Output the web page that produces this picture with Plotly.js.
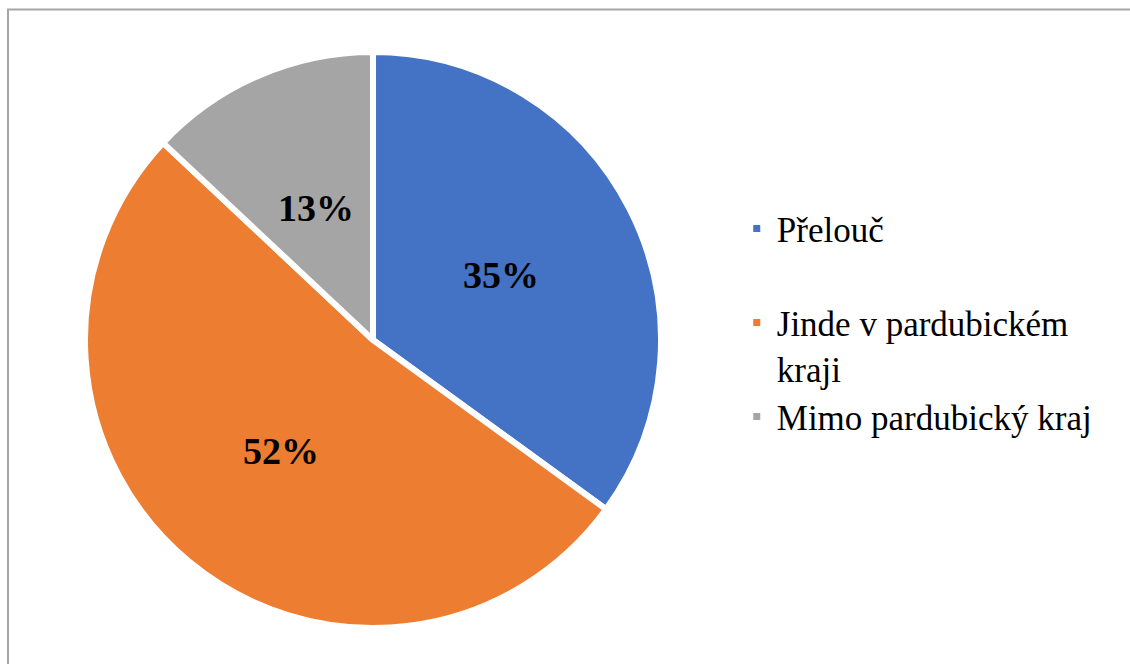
<!DOCTYPE html>
<html><head><meta charset="utf-8">
<script src="https://cdn.plot.ly/plotly-3.0.1.min.js"></script>
<style>html,body{margin:0;padding:0;background:#fff}#chart{width:1130px;height:664px}</style>
</head><body><div id="chart"></div>
<script>
const categories = ["Přelouč", "<br>Jinde v pardubickém<br>kraji", "Mimo pardubický kraj"];
const values = [35, 52, 13];
const colors = ["#4472C4", "#ED7D31", "#A5A5A5"];

const W = 1130, H = 664;
const domX = [0.0752, 0.585], domY = [0.0542, 0.9217];

// percentage labels: mid-angle of each slice, about half the radius out (derived from the values)
const total = values.reduce((a, b) => a + b, 0);
const cxPx = (domX[0] + domX[1]) / 2 * W;
const cyPx = (1 - (domY[0] + domY[1]) / 2) * H;
const Rpx = Math.min((domX[1] - domX[0]) * W, (domY[1] - domY[0]) * H) / 2;
let cum = 0;
const annotations = values.map((v) => {
  const mid = (cum + v / 2) / total * 2 * Math.PI;
  cum += v;
  const r = 0.5 * Rpx;
  const xPx = cxPx + r * Math.sin(mid);
  const yPx = cyPx - r * Math.cos(mid);
  return {
    xref: "paper", yref: "paper", x: xPx / W, y: 1 - yPx / H,
    xanchor: "center", yanchor: "middle", showarrow: false,
    text: "<b>" + Math.round(v / total * 100) + "%</b>",
    font: {family: "Liberation Serif", size: 38, color: "#000000"}
  };
});

const trace = {
  type: "pie",
  labels: categories,
  values: values,
  sort: false,
  direction: "clockwise",
  rotation: 0,
  marker: {colors: colors, line: {color: "#ffffff", width: 6}},
  textinfo: "none",
  hoverinfo: "label+percent",
  domain: {x: domX, y: domY}
};

const layout = {
  width: W, height: H,
  margin: {l: 0, r: 0, t: 0, b: 0},
  paper_bgcolor: "#ffffff",
  font: {family: "Liberation Serif", size: 35, color: "#000000"},
  showlegend: true,
  legend: {x: 0.652, y: 0.514, xanchor: "left", yanchor: "middle",
    font: {family: "Liberation Serif", size: 35, color: "#000000"}},
  annotations: annotations,
  shapes: [{type: "rect", xref: "paper", yref: "paper", x0: 8 / W, x1: 1.05, y0: -0.05, y1: 1 - 9.5 / H,
    line: {color: "#A6A6A6", width: 2}, fillcolor: "rgba(0,0,0,0)"}]
};
Plotly.newPlot("chart", [trace], layout, {displayModeBar: false, staticPlot: true});
</script></body></html>
